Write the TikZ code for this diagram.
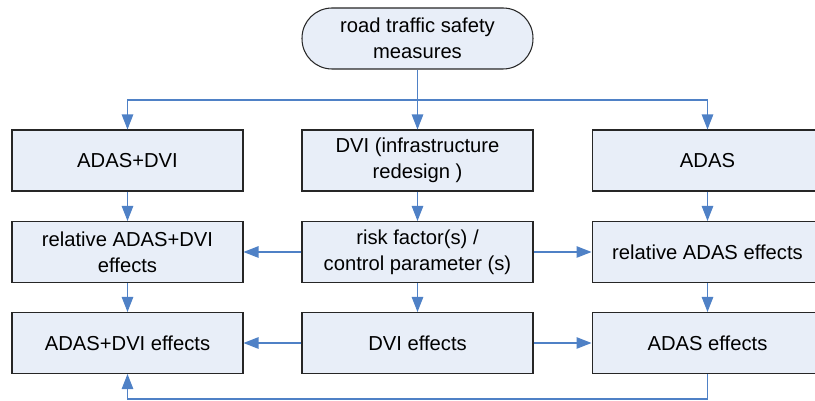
\documentclass[tikz,border=0pt]{standalone}
\usepackage{fontspec}
\setmainfont{Liberation Sans}
\usepackage{tikz}
\usetikzlibrary{arrows.meta}
\definecolor{boxfill}{RGB}{232,238,248}
\definecolor{linkblue}{RGB}{79,129,198}
\tikzset{
    stepbox/.style={draw=black!85, line width=0.6pt, fill=boxfill, align=center,
        minimum width=4.62cm, minimum height=1.22cm, inner sep=1pt,
        font=\fontsize{11.5}{14.8}\selectfont},
    startbox/.style={stepbox, rounded corners=0.6cm},
    link/.style={draw=linkblue, line width=0.6pt},
    flow/.style={link, -{Triangle[length=3mm,width=2.3mm]}}
}
\begin{document}
\begin{tikzpicture}[x=0.02cm, y=-0.02cm]
        \useasboundingbox (0,0) rectangle (815,401);
        \clip (0,0) rectangle (815,401);
        \node[startbox] (measures) at (417.5,38.5) {road traffic safety\\measures};
        \node[stepbox] (adasdvi) at (127.5,160.5) {ADAS+DVI};
        \node[stepbox] (dvi) at (417.5,160.5) {DVI (infrastructure\\redesign )};
        \node[stepbox] (adas) at (707.5,160.5) {ADAS};
        \node[stepbox] (reladasdvi) at (127.5,252) {relative ADAS+DVI\\effects};
        \node[stepbox] (risk) at (417.5,252) {risk factor(s) /\\control parameter (s)};
        \node[stepbox] (reladas) at (707.5,252) {relative ADAS effects};
        \node[stepbox] (adasdvieff) at (127.5,343) {ADAS+DVI effects};
        \node[stepbox] (dvieff) at (417.5,343) {DVI effects};
        \node[stepbox] (adaseff) at (707.5,343) {ADAS effects};
        \coordinate (split) at (417.5,100);
        \coordinate (back) at (417.5,399);
        % top split
        \draw[link] (measures.south) -- (split);
        \draw[flow] (split) -| (adasdvi.north);
        \draw[flow] (split) -- (dvi.north);
        \draw[flow] (split) -| (adas.north);
        % columns
        \foreach \a/\b in {adasdvi/reladasdvi, reladasdvi/adasdvieff, dvi/risk,
                risk/dvieff, adas/reladas, reladas/adaseff}
            \draw[flow] (\a) -- (\b);
        % rows
        \draw[flow] (risk) -- (reladasdvi);
        \draw[flow] (risk) -- (reladas);
        \draw[flow] (dvieff) -- (adasdvieff);
        \draw[flow] (dvieff) -- (adaseff);
        \draw[flow] (adaseff.south) |- (back) -| (adasdvieff.south);
    \end{tikzpicture}
\end{document}
